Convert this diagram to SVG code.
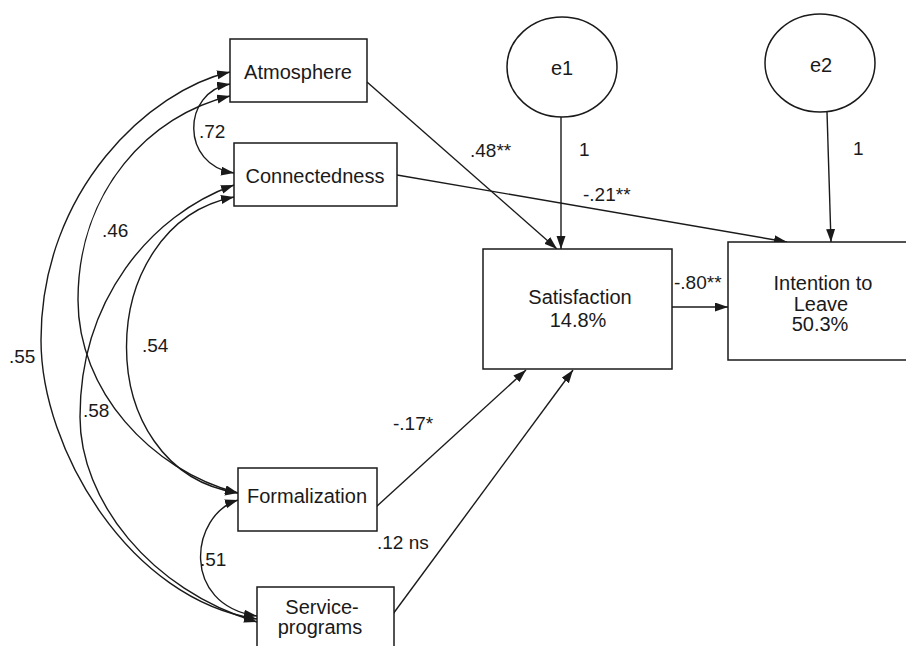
<svg xmlns="http://www.w3.org/2000/svg" width="906" height="646" viewBox="0 0 906 646">
<style>
.box{fill:#fff;stroke:#1a1a1a;stroke-width:1.5}
.node{font-family:"Liberation Sans",Arial,sans-serif;font-size:20px;fill:#1a1a1a;text-anchor:middle}
.lbl{font-family:"Liberation Sans",Arial,sans-serif;font-size:19px;fill:#1a1a1a}
.c{fill:none;stroke:#1a1a1a;stroke-width:1.4}
.arr{marker-end:url(#ah)}
.cov{marker-start:url(#ah);marker-end:url(#ah)}
</style>
<defs>
<marker id="ah" markerUnits="userSpaceOnUse" markerWidth="14" markerHeight="10" refX="13" refY="4.5" orient="auto-start-reverse">
<path d="M0,0 L13,4.5 L0,9 z" fill="#1a1a1a"/>
</marker>
</defs>
<rect width="906" height="646" fill="#fff"/>
<g id="connectors">
<path class="c cov" d="M230,84 C182,92 180,165 234,173"/>
<path class="c cov" d="M230,72 C150,90 41,190 41,340 C41,450 130,600 257,619"/>
<path class="c cov" d="M230,96 C150,115 78,190 78,300 C78,390 150,470 238,493"/>
<path class="c cov" d="M234,185 C150,215 80,300 80,417 C80,500 150,590 257,622"/>
<path class="c cov" d="M234,197 C92,225 88,470 238,493"/>
<path class="c cov" d="M238,500 C190,515 180,605 257,616"/>
<line class="c arr" x1="367" y1="82" x2="557" y2="249"/>
<line class="c arr" x1="397" y1="175" x2="787" y2="242"/>
<line class="c arr" x1="561" y1="117" x2="561" y2="249"/>
<line class="c arr" x1="827" y1="112" x2="831" y2="242"/>
<line class="c arr" x1="672" y1="307" x2="728" y2="307"/>
<line class="c arr" x1="376" y1="507" x2="526" y2="370"/>
<line class="c arr" x1="393" y1="614" x2="573" y2="370"/>
<text class="lbl" x="199" y="138">.72</text>
<text class="lbl" x="102" y="237">.46</text>
<text class="lbl" x="9" y="363">.55</text>
<text class="lbl" x="142" y="352">.54</text>
<text class="lbl" x="83" y="417">.58</text>
<text class="lbl" x="200" y="566">.51</text>
<text class="lbl" x="470" y="157">.48**</text>
<text class="lbl" x="579" y="156">1</text>
<text class="lbl" x="853" y="155">1</text>
<text class="lbl" x="583" y="201">-.21**</text>
<text class="lbl" x="674" y="289">-.80**</text>
<text class="lbl" x="393" y="430">-.17*</text>
<text class="lbl" x="377" y="549">.12 ns</text>
</g>
<g id="atmosphere">
<rect class="box" x="230" y="39" width="137" height="63"/>
<text class="node" x="298" y="79">Atmosphere</text>
</g>
<g id="connectedness">
<rect class="box" x="234" y="143" width="163" height="63"/>
<text class="node" x="315" y="183">Connectedness</text>
</g>
<g id="formalization">
<rect class="box" x="238" y="468" width="139" height="63"/>
<text class="node" x="307" y="503">Formalization</text>
</g>
<g id="service-programs">
<rect class="box" x="257" y="587" width="137" height="80"/>
<text class="node" x="322" y="614">Service-</text>
<text class="node" x="320" y="634">programs</text>
</g>
<g id="satisfaction">
<rect class="box" x="483" y="249" width="189" height="120"/>
<text class="node" x="580" y="304">Satisfaction</text>
<text class="node" x="578" y="327">14.8%</text>
</g>
<g id="intention">
<rect class="box" x="728" y="242" width="192" height="118"/>
<text class="node" x="823" y="290">Intention to</text>
<text class="node" x="821" y="311">Leave</text>
<text class="node" x="820" y="331">50.3%</text>
</g>
<g id="e1">
<ellipse class="box" cx="562" cy="67" rx="55" ry="50"/>
<text class="node" x="562" y="75">e1</text>
</g>
<g id="e2">
<ellipse class="box" cx="820" cy="63" rx="55" ry="49"/>
<text class="node" x="821" y="72">e2</text>
</g>
</svg>
